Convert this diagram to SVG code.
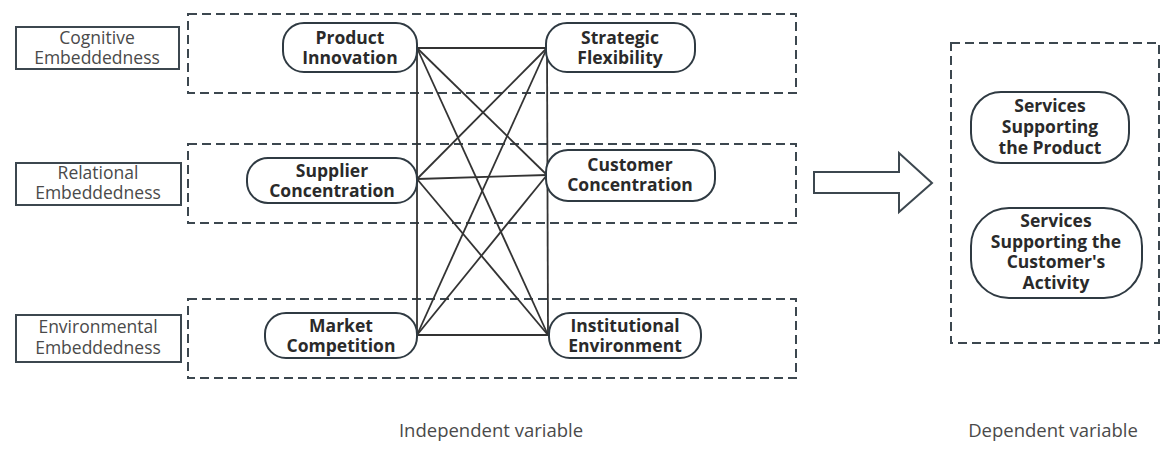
<svg xmlns="http://www.w3.org/2000/svg" width="1170" height="452" viewBox="0 0 1170 452">
<style>
.dash{fill:none;stroke:#3c474f;stroke-width:2;stroke-dasharray:9,5}
.lab{fill:#fff;stroke:#3c474f;stroke-width:2}
.labt{font-family:"Open Sans","Noto Sans",sans-serif;font-size:17.5px;fill:#4a4a4a;text-anchor:middle}
.node{fill:#fff;stroke:#2f3a42;stroke-width:2}
.nt{font-family:"Open Sans","Noto Sans",sans-serif;font-size:17.5px;font-weight:700;fill:#2a2a2a;text-anchor:middle}
.cap{font-family:"Open Sans","Noto Sans",sans-serif;font-size:18.5px;fill:#4a4a4a;text-anchor:middle}
.ln{stroke:#333;stroke-width:1.8;fill:none}
</style>
<rect width="1170" height="452" fill="#fff"/>
<g id="groups">
<rect class="dash" x="188" y="14" width="608" height="79"/>
<rect class="dash" x="188" y="144" width="608" height="79"/>
<rect class="dash" x="188" y="299" width="608" height="79"/>
<rect class="dash" x="951" y="43" width="208" height="300"/>
</g>
<g id="label-cognitive">
<rect class="lab" x="16" y="27" width="163" height="42"/>
<text class="labt" x="97" y="44">Cognitive<tspan x="97" dy="20">Embeddedness</tspan></text>
</g>
<g id="label-relational">
<rect class="lab" x="16" y="163" width="165" height="42"/>
<text class="labt" x="98" y="179">Relational<tspan x="98" dy="20">Embeddedness</tspan></text>
</g>
<g id="label-environmental">
<rect class="lab" x="16" y="315" width="165" height="47"/>
<text class="labt" x="98" y="333">Environmental<tspan x="98" dy="21">Embeddedness</tspan></text>
</g>
<g id="connectors">
<line class="ln" x1="417" y1="48" x2="417" y2="335"/>
<line class="ln" x1="547" y1="48" x2="548" y2="335"/>
<line class="ln" x1="417" y1="48" x2="547" y2="48"/>
<line class="ln" x1="417" y1="48" x2="547" y2="175"/>
<line class="ln" x1="417" y1="48" x2="548" y2="335"/>
<line class="ln" x1="417" y1="179" x2="547" y2="48"/>
<line class="ln" x1="417" y1="179" x2="547" y2="175"/>
<line class="ln" x1="417" y1="179" x2="548" y2="335"/>
<line class="ln" x1="417" y1="335" x2="547" y2="48"/>
<line class="ln" x1="417" y1="335" x2="547" y2="175"/>
<line class="ln" x1="417" y1="335" x2="548" y2="335"/>
</g>
<g id="product-innovation">
<rect class="node" x="283" y="23" width="134" height="49" rx="21"/>
<text class="nt" x="350" y="44">Product<tspan x="350" dy="20">Innovation</tspan></text>
</g>
<g id="supplier-concentration">
<rect class="node" x="247" y="158" width="170" height="45" rx="21"/>
<text class="nt" x="332" y="177">Supplier<tspan x="332" dy="20">Concentration</tspan></text>
</g>
<g id="market-competition">
<rect class="node" x="265" y="313" width="152" height="45" rx="21"/>
<text class="nt" x="341" y="332">Market<tspan x="341" dy="20">Competition</tspan></text>
</g>
<g id="strategic-flexibility">
<rect class="node" x="546" y="23" width="149" height="49" rx="21"/>
<text class="nt" x="620" y="44">Strategic<tspan x="620" dy="20">Flexibility</tspan></text>
</g>
<g id="customer-concentration">
<rect class="node" x="546" y="150" width="169" height="51" rx="22"/>
<text class="nt" x="630" y="171">Customer<tspan x="630" dy="20">Concentration</tspan></text>
</g>
<g id="institutional-environment">
<rect class="node" x="549" y="313" width="152" height="45" rx="21"/>
<text class="nt" x="625" y="332">Institutional<tspan x="625" dy="20">Environment</tspan></text>
</g>
<g id="arrow">
<polygon points="814,172 899,172 899,153 932,183 899,212 899,193 814,193" fill="#fff" stroke="#3c474f" stroke-width="2" stroke-linejoin="miter"/>
</g>
<g id="services-product">
<rect class="node" x="971" y="92" width="158" height="71" rx="30"/>
<text class="nt" x="1050" y="112">Services<tspan x="1050" dy="21">Supporting</tspan><tspan x="1050" dy="21">the Product</tspan></text>
</g>
<g id="services-customer">
<rect class="node" x="971" y="208" width="171" height="90" rx="38"/>
<text class="nt" x="1056" y="227">Services<tspan x="1056" dy="20.5">Supporting the</tspan><tspan x="1056" dy="20.5">Customer's</tspan><tspan x="1056" dy="20.5">Activity</tspan></text>
</g>
<g id="captions">
<text class="cap" x="491" y="437">Independent variable</text>
<text class="cap" x="1053" y="437">Dependent variable</text>
</g>
</svg>
